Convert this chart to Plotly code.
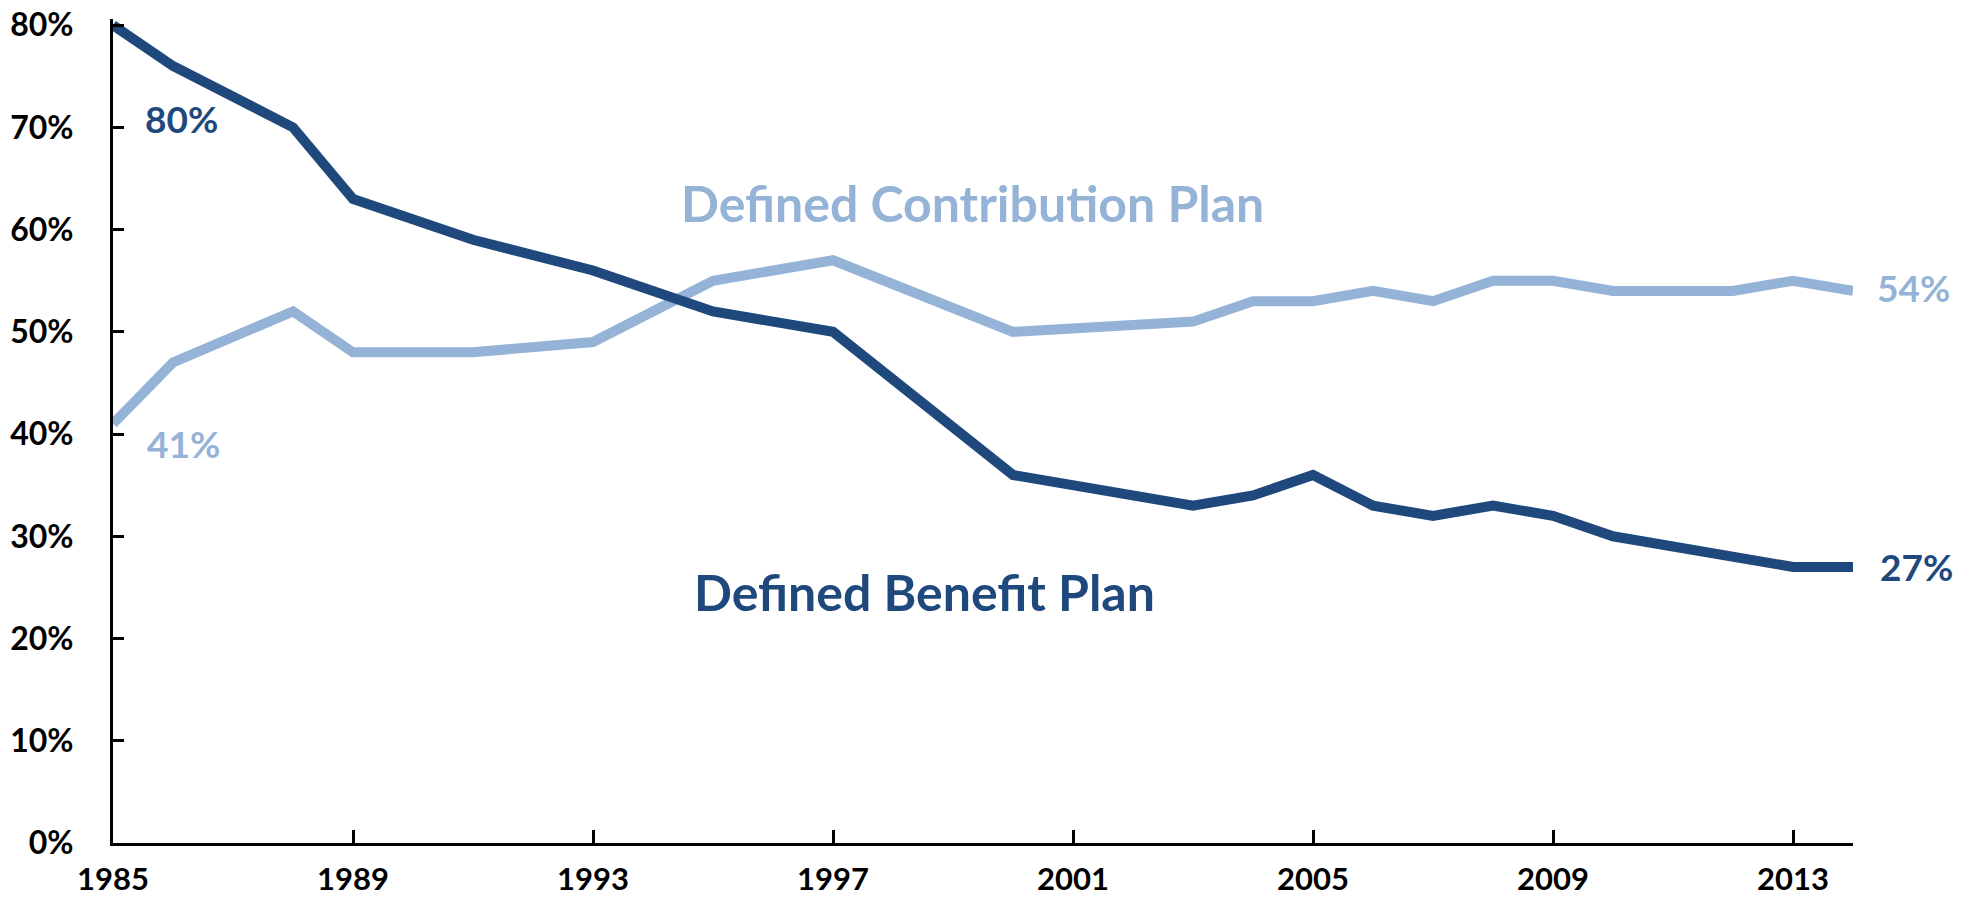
import plotly.graph_objects as go

# Survey years and share of workers covered by each plan type (%)
years = [1985, 1986, 1988, 1989, 1991, 1993, 1995, 1997, 2000, 2003,
         2004, 2005, 2006, 2007, 2008, 2009, 2010, 2012, 2013, 2014]
defined_benefit = [80, 76, 70, 63, 59, 56, 52, 50, 36, 33,
                   34, 36, 33, 32, 33, 32, 30, 28, 27, 27]
defined_contribution = [41, 47, 52, 48, 48, 49, 55, 57, 50, 51,
                        53, 53, 54, 53, 55, 55, 54, 54, 55, 54]

x_ticks = [1985, 1989, 1993, 1997, 2001, 2005, 2009, 2013]
y_ticks = [0, 10, 20, 30, 40, 50, 60, 70, 80]
y_tick_labels = [f"{v}%" for v in y_ticks]

DARK = "#1F497D"
LIGHT = "#95B3D7"
FONT = "Lato"

fig = go.Figure()
fig.add_trace(go.Scatter(
    x=years, y=defined_contribution, mode="lines",
    line=dict(color=LIGHT, width=10), name="Defined Contribution Plan",
))
fig.add_trace(go.Scatter(
    x=years, y=defined_benefit, mode="lines",
    line=dict(color=DARK, width=10), name="Defined Benefit Plan",
))

def label(x, y, text, color, size, xanchor="left", xref="x"):
    fig.add_annotation(
        x=x, y=y, xref=xref, yref="y", text=text, showarrow=False,
        xanchor=xanchor, yanchor="middle",
        font=dict(family=FONT, size=size, color=color, weight="bold"),
    )

# Start-point value labels (inside the plot)
label(1985.5, 70.9, f"{defined_benefit[0]}%", DARK, 37)
label(1985.53, 39.1, f"{defined_contribution[0]}%", LIGHT, 37)
# End-point value labels sit just right of the plot area
label(1.0126, 54.3, f"{defined_contribution[-1]}%", LIGHT, 37, xref="paper")
label(1.0145, 27.0, f"{defined_benefit[-1]}%", DARK, 37, xref="paper")

# Series names placed next to their lines
label(1999.33, 62.6, "Defined Contribution Plan", LIGHT, 50, xanchor="center")
label(1998.53, 24.6, "Defined Benefit Plan", DARK, 50, xanchor="center")

fig.update_layout(
    width=1969, height=897,
    margin=dict(l=113, r=116, t=19, b=54),
    paper_bgcolor="white", plot_bgcolor="white",
    showlegend=False,
    font=dict(family=FONT, color="black"),
    xaxis=dict(
        range=[1985, 2014], tickvals=x_ticks, automargin=False,
        ticks="inside", ticklen=13, tickwidth=3, tickcolor="black",
        showline=True, linecolor="black", linewidth=3,
        showgrid=False, zeroline=False,
        tickfont=dict(family=FONT, size=31, color="black", weight="bold"),
        ticklabelstandoff=7,
    ),
    yaxis=dict(
        range=[0, 80.6], tickvals=y_ticks, ticktext=y_tick_labels,
        automargin=False,
        ticks="inside", ticklen=11, tickwidth=3, tickcolor="black",
        showline=True, linecolor="black", linewidth=3,
        showgrid=False, zeroline=False,
        tickfont=dict(family=FONT, size=32, color="black", weight="bold"),
        ticklabelstandoff=30,
    ),
)

fig.write_html("out.html")
